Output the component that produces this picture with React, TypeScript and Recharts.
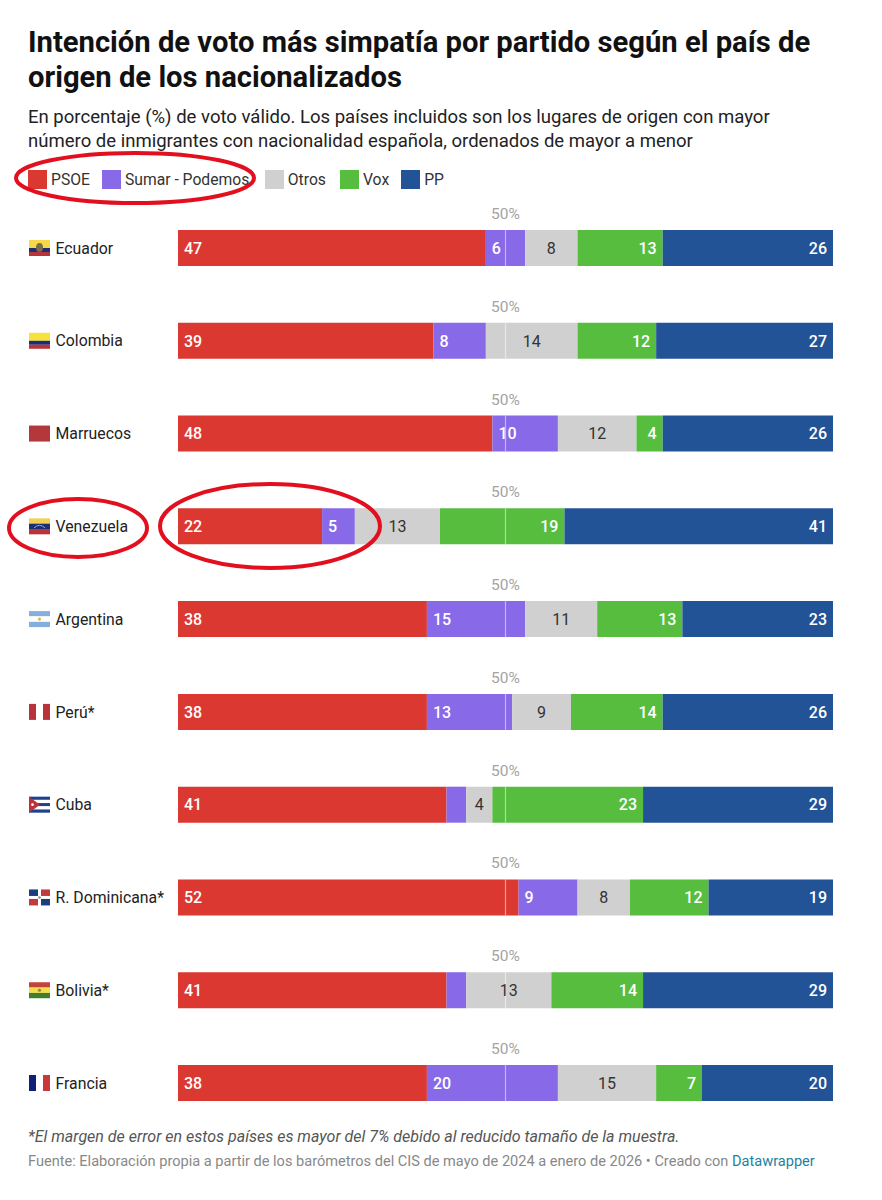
import React from "react";
import { BarChart, Bar, XAxis, YAxis, Legend, LabelList, ReferenceDot } from "recharts";

const countries = ["Ecuador", "Colombia", "Marruecos", "Venezuela", "Argentina", "Perú*", "Cuba", "R. Dominicana*", "Bolivia*", "Francia"];
const psoe = [47, 39, 48, 22, 38, 38, 41, 52, 41, 38];
const sumar = [6, 8, 10, 5, 15, 13, 3, 9, 3, 20];
const otros = [8, 14, 12, 13, 11, 9, 4, 8, 13, 15];
const vox = [13, 12, 4, 19, 13, 14, 23, 12, 14, 7];
const pp = [26, 27, 26, 41, 23, 26, 29, 19, 29, 20];
const hiddenLabelBelow = 4;
const midpoint = 50;

const rows = countries.map((country, i) => ({
  country,
  PSOE: psoe[i],
  "Sumar - Podemos": sumar[i],
  Otros: otros[i],
  Vox: vox[i],
  PP: pp[i],
}));

const FONT = "Roboto, sans-serif";
const RED = "#dc3832";
const PURPLE = "#8869e8";
const GREY = "#d0d0d0";
const GREEN = "#57bd3f";
const BLUE = "#235397";

const Flag = ({ name }: { name: string }) => {
  const W = 21, H = 16;
  const h = (y: number, hh: number, c: string, k?: string) => <rect key={k ?? `${y}${c}`} x={0} y={y} width={W} height={hh} fill={c} />;
  const v = (x: number, ww: number, c: string) => <rect key={`${x}${c}`} x={x} y={0} width={ww} height={H} fill={c} />;
  switch (name) {
    case "Ecuador":
      return <>{h(0, 8, "#f5d94a")}{h(8, 4, "#1c2f73")}{h(12, 4, "#b8333a")}<ellipse cx={10.5} cy={7.5} rx={3.5} ry={4.5} fill="#7d6a4a" /></>;
    case "Colombia":
      return <>{h(0, 8, "#f7e23c")}{h(8, 4, "#1c2f73")}{h(12, 4, "#b8333a")}</>;
    case "Marruecos":
      return <>{h(0, 16, "#b2383c")}</>;
    case "Venezuela":
      return <>{h(0, 5.3, "#f2cf55")}{h(5.3, 5.4, "#1c2f73")}{h(10.7, 5.3, "#b8333a")}<path d="M5 9.5Q10.5 4.5 16 9.5" fill="none" stroke="#cfd6ea" strokeWidth={0.7} /></>;
    case "Argentina":
      return <>{h(0, 5.3, "#86aedc")}{h(5.3, 5.4, "#ffffff")}{h(10.7, 5.3, "#86aedc")}<circle cx={10.5} cy={8} r={1.6} fill="#e2b34c" /></>;
    case "Perú*":
      return <>{v(0, 7, "#b8333a")}{v(14, 7, "#b8333a")}</>;
    case "Cuba":
      return <>{h(0, 3.2, "#1f3f8f")}{h(3.2, 3.2, "#ffffff")}{h(6.4, 3.2, "#1f3f8f")}{h(9.6, 3.2, "#ffffff")}{h(12.8, 3.2, "#1f3f8f")}<path d="M0 0L11 8L0 16Z" fill="#b8333a" /><circle cx={3.5} cy={8} r={1.3} fill="#fff" /></>;
    case "R. Dominicana*":
      return <>
        <rect x={0} y={0} width={9} height={6.5} fill="#1c3f7c" /><rect x={12} y={0} width={9} height={6.5} fill="#c23a40" />
        <rect x={0} y={9.5} width={9} height={6.5} fill="#c23a40" /><rect x={12} y={9.5} width={9} height={6.5} fill="#1c3f7c" />
        <circle cx={10.5} cy={8} r={1.3} fill="#8a8f80" />
      </>;
    case "Bolivia*":
      return <>{h(0, 5.3, "#c2433c")}{h(5.3, 5.4, "#f5dc4a")}{h(10.7, 5.3, "#3f8030")}<circle cx={10.5} cy={8} r={1.6} fill="#a0803c" /></>;
    case "Francia":
      return <>{v(0, 7, "#10207a")}{v(14, 7, "#c9393c")}</>;
    default:
      return null;
  }
};

const CountryTick = (props: any) => {
  const { x, y, payload } = props;
  return (
    <g transform={`translate(${x},${y})`}>
      <g transform="translate(-149,-8)"><Flag name={payload.value} /></g>
      <text x={-122.5} y={0} dy="0.36em" fontFamily={FONT} fontSize={15.8} fill="#222">{payload.value}</text>
    </g>
  );
};

const makeLabel = (align: "left" | "center" | "right", fill: string) => (props: any) => {
  const { x, y, width, height, value } = props;
  if (value < hiddenLabelBelow && align === "left" && width < 25) return null;
  const px = align === "left" ? x + 6 : align === "right" ? x + width - 6 : x + width / 2;
  const anchor = align === "left" ? "start" : align === "right" ? "end" : "middle";
  return (
    <text x={px} y={y + height / 2} dy="0.36em" textAnchor={anchor} fontFamily={FONT} fontSize={16}
      fontWeight={fill === "#fff" ? 500 : 400} fill={fill}>{value}</text>
  );
};

const MidMark = (props: any) => {
  const { cx, cy } = props;
  return (
    <g>
      <line x1={cx} x2={cx} y1={cy - 18} y2={cy + 18} stroke="#fff" strokeOpacity={0.5} strokeWidth={1.2} />
      <text x={cx} y={cy - 29} textAnchor="middle" fontFamily={FONT} fontSize={15.5} fill="#a3a3a3">{midpoint}%</text>
    </g>
  );
};

const LegendContent = (props: any) => (
  <div style={{ display: "flex", fontFamily: FONT, fontSize: 15.7, color: "#333", lineHeight: "19px" }}>
    {(props.payload || []).map((p: any, i: number) => (
      <div key={p.value} style={{ display: "flex", alignItems: "center", marginRight: i === 1 ? 15.5 : i === 0 ? 12 : i === 2 ? 14 : 12 }}>
        <span style={{ width: 19, height: 19, background: p.color, marginRight: 4, display: "inline-block" }} />
        <span>{p.value}</span>
      </div>
    ))}
  </div>
);

const App = () => (
  <div style={{ position: "absolute", left: 0, top: 0, width: 882, height: 1200, background: "#fff", overflow: "hidden" }}>
    <div style={{ position: "absolute", left: 28, top: 24.5, width: 840, fontFamily: FONT, fontWeight: 700, fontSize: 29.2, lineHeight: "35px", color: "#111" }}>
      Intención de voto más simpatía por partido según el país de<br />origen de los nacionalizados
    </div>
    <div style={{ position: "absolute", left: 28, top: 105, width: 840, fontFamily: FONT, fontSize: 18.55, lineHeight: "24px", color: "#222" }}>
      En porcentaje (%) de voto válido. Los países incluidos son los lugares de origen con mayor<br />
      número de inmigrantes con nacionalidad española, ordenados de mayor a menor
    </div>

    <BarChart
      width={882}
      height={1200}
      data={rows}
      layout="vertical"
      barCategoryGap={28.4}
      margin={{ top: 201.6, right: 49, bottom: 70.6, left: 0 }}
      style={{ position: "absolute", left: 0, top: 0 }}
    >
      <XAxis type="number" domain={[0, 100]} hide />
      <YAxis type="category" dataKey="country" width={178} axisLine={false} tickLine={false} tickSize={0} tickMargin={0} interval={0} tick={<CountryTick />} />
      <Legend layout="vertical" align="center" verticalAlign="middle" itemSorter={null} wrapperStyle={{ top: 169.5, left: 28, width: 600 }} content={<LegendContent />} />
      <Bar dataKey="PSOE" stackId="a" fill={RED} isAnimationActive={false}>
        <LabelList dataKey="PSOE" content={makeLabel("left", "#fff")} />
      </Bar>
      <Bar dataKey="Sumar - Podemos" stackId="a" fill={PURPLE} isAnimationActive={false}>
        <LabelList dataKey="Sumar - Podemos" content={makeLabel("left", "#fff")} />
      </Bar>
      <Bar dataKey="Otros" stackId="a" fill={GREY} isAnimationActive={false}>
        <LabelList dataKey="Otros" content={makeLabel("center", "#333")} />
      </Bar>
      <Bar dataKey="Vox" stackId="a" fill={GREEN} isAnimationActive={false}>
        <LabelList dataKey="Vox" content={makeLabel("right", "#fff")} />
      </Bar>
      <Bar dataKey="PP" stackId="a" fill={BLUE} isAnimationActive={false}>
        <LabelList dataKey="PP" content={makeLabel("right", "#fff")} />
      </Bar>
      {countries.map((c) => (
        <ReferenceDot key={c} x={midpoint} y={c} ifOverflow="visible" shape={<MidMark />} />
      ))}
    </BarChart>

    <svg width={882} height={1200} style={{ position: "absolute", left: 0, top: 0, pointerEvents: "none" }}>
      <g fill="none" stroke="#e2101f" strokeWidth={4}>
        <ellipse cx={135} cy={178} rx={119} ry={25} />
        <ellipse cx={78} cy={528} rx={69} ry={29} />
        <ellipse cx={270} cy={526} rx={110} ry={42} />
      </g>
    </svg>

    <div style={{ position: "absolute", left: 28, top: 1128, fontFamily: FONT, fontStyle: "italic", fontSize: 16, lineHeight: "18px", color: "#555" }}>
      *El margen de error en estos países es mayor del 7% debido al reducido tamaño de la muestra.
    </div>
    <div style={{ position: "absolute", left: 28, top: 1152, fontFamily: FONT, fontSize: 14.57, lineHeight: "18px", color: "#888" }}>
      Fuente: Elaboración propia a partir de los barómetros del CIS de mayo de 2024 a enero de 2026 • Creado con <span style={{ color: "#1d81a2" }}>Datawrapper</span>
    </div>
  </div>
);

export default App;
